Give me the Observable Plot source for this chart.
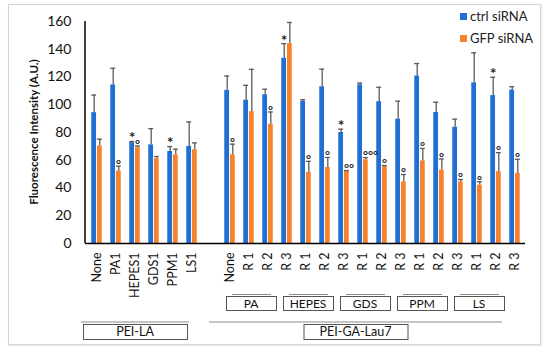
<!DOCTYPE html>
<html>
<head>
<meta charset="utf-8">
<script src="https://cdn.jsdelivr.net/npm/d3@7"></script>
<script src="https://cdn.jsdelivr.net/npm/@observablehq/plot@0.6"></script>
<style>
  body { margin: 0; background: #fff; font-family: Lato, "Open Sans", sans-serif; }
  #wrap { position: relative; width: 550px; height: 352px; overflow: hidden; }
  #border { position: absolute; left: 8px; top: 4px; width: 531px; height: 339px; border: 1px solid #d6d6d6; box-shadow: 1px 1px 2px #e4e4e4; pointer-events: none; }
  .leg { position: absolute; left: 460px; font-size: 13px; color: #222; display: flex; align-items: center; white-space: nowrap; }
  .leg span.sw { display: inline-block; width: 7px; height: 7px; margin-right: 3px; }
</style>
</head>
<body>
<div id="wrap">
  <div id="border"></div>
  <div id="chart"></div>
  <div class="leg" style="top:8px;"><span class="sw" style="background:#1f6fd4"></span>ctrl siRNA</div>
  <div class="leg" style="top:30px;"><span class="sw" style="background:#f7822b"></span>GFP siRNA</div>
</div>
<script>
// ---- data ----
const keys = ["LA None","LA PA1","LA HEPES1","LA GDS1","LA PPM1","LA LS1","gap",
  "GA None","PA R 1","PA R 2","PA R 3","HEPES R 1","HEPES R 2","HEPES R 3",
  "GDS R 1","GDS R 2","GDS R 3","PPM R 1","PPM R 2","PPM R 3","LS R 1","LS R 2","LS R 3"];
const tickLabels = ["None","PA1","HEPES1","GDS1","PPM1","LS1","",
  "None","R 1","R 2","R 3","R 1","R 2","R 3","R 1","R 2","R 3","R 1","R 2","R 3","R 1","R 2","R 3"];
const barKeys = keys.filter(k => k !== "gap");
const ctrl    = [94.3,114.3,72.7,71.1,66.3,69.9, 110.4,103.3,107.2,133.5,102.4,113.0,80.0,114.4,102.2,89.6,120.7,94.4,83.8,115.8,106.6,110.6];
const ctrlErr = [12.7,12.0,0.8,11.7,3.6,17.7, 10.3,10.7,4.0,10.5,1.2,12.7,2.4,1.2,10.4,13.0,9.0,7.4,5.8,21.6,13.2,2.4];
const gfp     = [70.3,52.3,69.1,61.2,63.9,67.5, 63.9,95.0,86.0,144.1,51.2,54.8,52.0,60.3,55.4,44.4,59.5,52.9,44.4,42.1,51.8,50.6];
const gfpErr  = [4.9,3.4,1.2,1.5,4.1,5.0, 7.7,30.5,8.8,15.2,8.0,7.2,0.6,1.6,0.8,5.3,9.0,8.0,1.7,2.4,13.7,10.1];
const ctrlMark = ["","","*","","*","", "","","","*","","","*","","","","","","","","*",""];
const gfpMark  = ["","°","°","","","", "°","","°","","°","°","°°","°°°","°","°","°","°","°","°","°","°"];
const yTicks = [0,20,40,60,80,100,120,140,160];
const subGroups = [
  {name:"PA", from:"PA R 1", to:"PA R 3"},
  {name:"HEPES", from:"HEPES R 1", to:"HEPES R 3"},
  {name:"GDS", from:"GDS R 1", to:"GDS R 3"},
  {name:"PPM", from:"PPM R 1", to:"PPM R 3"},
  {name:"LS", from:"LS R 1", to:"LS R 3"}
];
const topGroups = [
  {name:"PEI-LA", from:"LA None", to:"LA LS1"},
  {name:"PEI-GA-Lau7", from:"GA None", to:"LS R 3"}
];

const rows = barKeys.map((k, i) => ({
  key: k, ctrl: ctrl[i], ctrlErr: ctrlErr[i], gfp: gfp[i], gfpErr: gfpErr[i],
  ctrlMark: ctrlMark[i], gfpMark: gfpMark[i]
}));
const labelOf = new Map(keys.map((k, i) => [k, tickLabels[i]]));

const BLUE = "#1f6fd4", ORANGE = "#f7822b", ERR = "#5a5a5a";
const W = 550, H = 352, ML = 85, MR = 25, MT = 21, MB = 109;
const bw = (W - ML - MR) / keys.length;
const half = bw / 2;
// bar geometry within each band
const inA = half - 5.3, inB = half + 0.4;      // bar insets
const cA = half - 5.4, cB = half + 0.3;        // cap insets
const off = 2.8;                               // error-line offset from band centre

const plot = Plot.plot({
  width: W, height: H,
  marginLeft: ML, marginRight: MR, marginTop: MT, marginBottom: MB,
  style: {fontFamily: "Lato, 'Open Sans', sans-serif", fontSize: "13px", color: "#111", background: "transparent"},
  x: {domain: keys, padding: 0},
  y: {domain: [0, 160]},
  marks: [
    Plot.axisY({ticks: yTicks, tickSize: 0, tickPadding: 14, fontSize: 14, label: null}),
    Plot.axisX({tickSize: 0, tickPadding: 9, tickRotate: -90, fontSize: 12.5, label: null,
                tickFormat: k => labelOf.get(k)}),
    Plot.barY(rows, {x: "key", y: "ctrl", fill: BLUE, insetLeft: inA, insetRight: inB}),
    Plot.barY(rows, {x: "key", y: "gfp", fill: ORANGE, insetLeft: inB, insetRight: inA}),
    Plot.ruleX(rows, {x: "key", y1: "ctrl", y2: d => d.ctrl + d.ctrlErr, dx: -off, stroke: ERR, strokeWidth: 1.3}),
    Plot.tickY(rows, {x: "key", y: d => d.ctrl + d.ctrlErr, insetLeft: cA, insetRight: cB, stroke: ERR, strokeWidth: 1.3}),
    Plot.ruleX(rows, {x: "key", y1: "gfp", y2: d => d.gfp + d.gfpErr, dx: off, stroke: ERR, strokeWidth: 1.3}),
    Plot.tickY(rows, {x: "key", y: d => d.gfp + d.gfpErr, insetLeft: cB, insetRight: cA, stroke: ERR, strokeWidth: 1.3}),
    Plot.text(rows.filter(d => d.ctrlMark), {x: "key", y: d => d.ctrl + d.ctrlErr, text: "ctrlMark",
      dx: -off, dy: -3, fontSize: 15, fontWeight: "bold", fill: "#222"}),
    Plot.text(rows.filter(d => d.gfpMark), {x: "key", y: d => d.gfp + d.gfpErr, text: "gfpMark",
      dx: 0, dy: -2, textAnchor: "start", fontSize: 12, fontWeight: "bold", fill: "#222"}),
    Plot.ruleY([0], {stroke: "#000", strokeWidth: 1.5})
  ]
});

document.getElementById("chart").appendChild(plot);

// ---- axis line and group labels drawn from the scales ----
const xs = plot.scale("x"), ys = plot.scale("y");
const svg = d3.select(plot);
svg.append("line").attr("x1", ML).attr("x2", ML)
  .attr("y1", ys.apply(160)).attr("y2", ys.apply(0)).attr("stroke", "#000").attr("stroke-width", 1.5);

svg.append("text").attr("transform", `translate(34,${(ys.apply(0) + ys.apply(160)) / 2}) rotate(-90)`)
  .attr("text-anchor", "middle").attr("dy", "0.35em")
  .style("font-weight", "bold").style("font-size", "11.5px").attr("fill", "#111")
  .text("Fluorescence Intensity (A.U.)");

const base = ys.apply(0);
const g = svg.append("g").style("font-size", "12px").attr("fill", "#111");
subGroups.forEach(s => {
  const x0 = xs.apply(s.from) - 13, x1 = xs.apply(s.to) + xs.bandwidth - 20;
  g.append("line").attr("x1", x0 + 6).attr("x2", x1 - 5).attr("y1", base + 51.5).attr("y2", base + 51.5)
    .attr("stroke", "#8a8a8a").attr("stroke-width", 1);
  g.append("rect").attr("x", x0 + 0.5).attr("y", base + 53.5).attr("width", x1 - x0).attr("height", 14)
    .attr("fill", "#fff").attr("stroke", "#555").attr("stroke-width", 1);
  g.append("text").attr("x", (x0 + x1) / 2).attr("y", base + 60.5).attr("dy", "0.35em")
    .attr("text-anchor", "middle").text(s.name);
});
topGroups.forEach(s => {
  const x0 = xs.apply(s.from) - (s.name === "PEI-LA" ? 6 : 11);
  const x1 = xs.apply(s.to) + xs.bandwidth - (s.name === "PEI-LA" ? 12 : 22);
  g.append("line").attr("x1", x0).attr("x2", x1).attr("y1", base + 79).attr("y2", base + 79)
    .attr("stroke", "#8a8a8a").attr("stroke-width", 1);
  const cx = (x0 + x1) / 2, bwid = 104;
  g.append("rect").attr("x", cx - bwid / 2 + 0.5).attr("y", base + 81.5).attr("width", bwid).attr("height", 15)
    .attr("fill", "#fff").attr("stroke", "#555").attr("stroke-width", 1);
  g.append("text").attr("x", cx).attr("y", base + 89).attr("dy", "0.35em")
    .attr("text-anchor", "middle").style("font-size", "12.5px").text(s.name);
});
</script>
</body>
</html>
